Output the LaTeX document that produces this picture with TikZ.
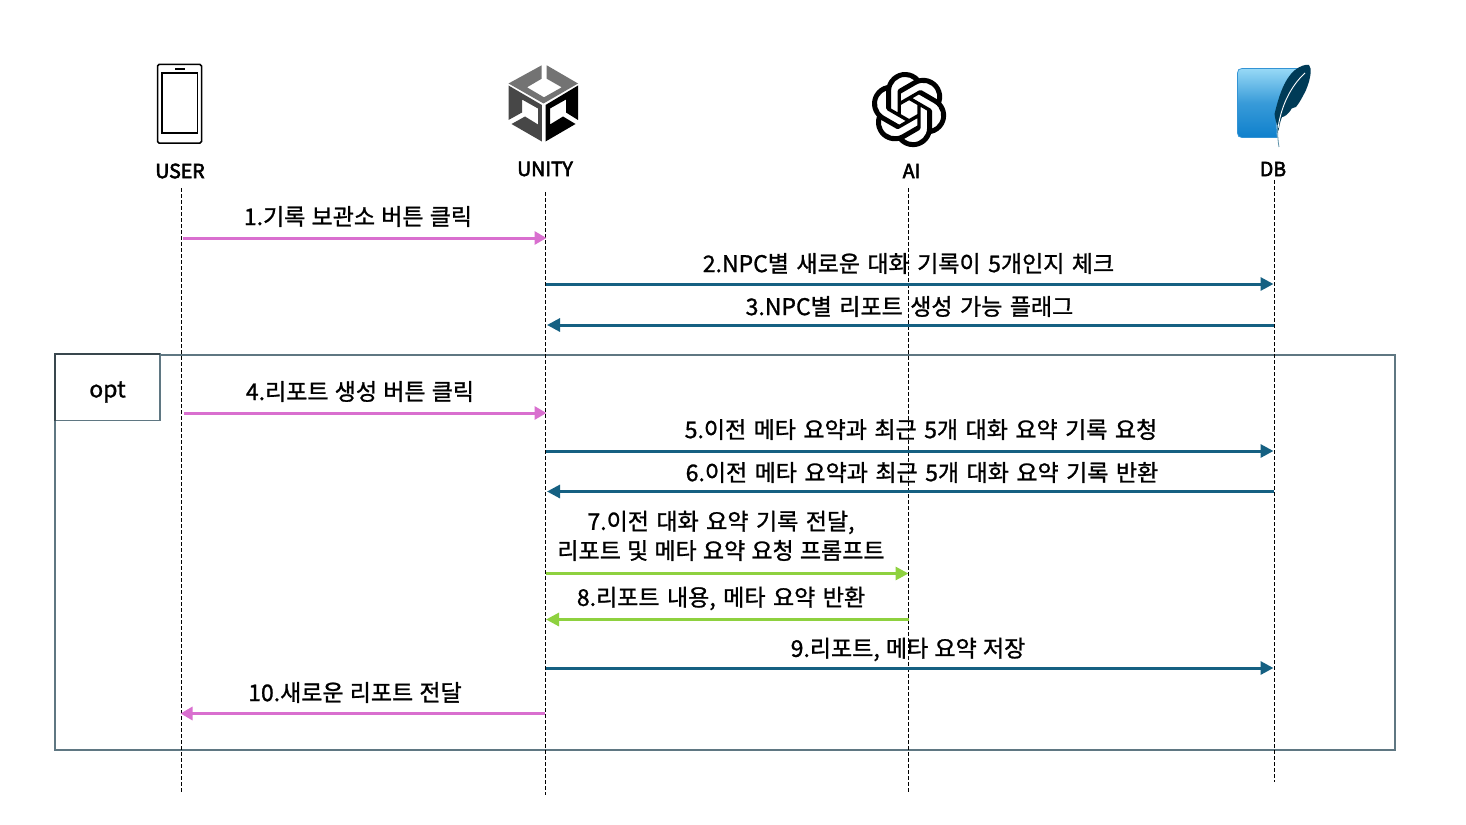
\documentclass[tikz,border=0pt]{standalone}
\usepackage{fontspec}
\setmainfont{Noto Sans CJK KR}[FakeBold=1.1,WordSpace=1.45]
\newfontfamily\tightfont{Noto Sans CJK KR}[FakeBold=1.1,WordSpace=1.2]
\newfontfamily\labfont{Noto Sans CJK KR}[FakeBold=3]
\usetikzlibrary{arrows.meta,svg.path}
\definecolor{pinkc}{HTML}{D96FCF}
\definecolor{bluec}{HTML}{156082}
\definecolor{greenc}{HTML}{8ED13F}
\definecolor{optc}{HTML}{5F7782}
\definecolor{featherc}{HTML}{003B57}
\definecolor{sqltop}{HTML}{97D9F6}
\definecolor{sqlbot}{HTML}{0F80CC}
\tikzset{
  msg/.style={font=\fontsize{23}{29}\selectfont,inner sep=0pt,align=center,text=black},
  msgtight/.style={font=\tightfont\fontsize{23}{29}\selectfont,inner sep=0pt,align=center,text=black},
  actor/.style={font=\labfont\fontsize{19.5}{24}\selectfont,inner sep=0pt,text=black},
  life/.style={draw=black,line width=0.8pt,dash pattern=on 3.6pt off 2.4pt},
  pinkarrow/.style={draw=pinkc,line width=3pt,-{Triangle[length=12pt,width=13pt]}},
  bluearrow/.style={draw=bluec,line width=3pt,-{Triangle[length=13pt,width=13pt]}},
  greenarrow/.style={draw=greenc,line width=3pt,-{Triangle[length=13pt,width=13pt]}},
}
\begin{document}
\begin{tikzpicture}[x=1pt,y=-1pt]
\useasboundingbox (0,0) rectangle (1466,824);
\fill[white] (0,0) rectangle (1466,824);

% lifeline ends
\coordinate (userT) at (181,188); \coordinate (userB) at (181,792);
\coordinate (unityT) at (545.5,192); \coordinate (unityB) at (545.5,795);
\coordinate (aiT) at (908,188); \coordinate (aiB) at (908,792);
\coordinate (dbT) at (1274,180); \coordinate (dbB) at (1274,782);

% opt frame
\node[draw=optc,line width=2pt,minimum width=1339.5pt,minimum height=395pt,inner sep=0pt,outer sep=0pt,anchor=north west] (frame) at (55,354.5) {};

\draw[life] (userT) -- (userB);
\draw[life] (unityT) -- (unityB);
\draw[life] (aiT) -- (aiB);
\draw[life] (dbT) -- (dbB);

\node[draw=optc,fill=white,line width=1.8pt,minimum width=105pt,minimum height=66.5pt,inner sep=0pt,outer sep=0pt,anchor=north west] (tab) at (55,354) {};
\draw[optc!60!black,line width=1.8pt] (tab.south west) -- (tab.north west) -- (tab.north east);
\node[msg] (optlabel) at (107.5,392) {opt};

% phone
\draw[black,line width=1.5pt,rounded corners=1.5pt] (157.5,64.5) rectangle (201.5,143);
\draw[black,line width=1.4pt] (162,73) rectangle (197.5,133);
\draw[black,line width=1.6pt] (175,69) -- (185,69);

% unity
\fill[black!55] (541.7,65.3) -- (508.5,83.5) -- (543.5,103.5) -- (578,83.5) -- (546.7,65.3) -- (546.7,78.7) -- (561.7,87.3) -- (544,97.3) -- (527,87.3) -- (541.7,78.7) -- cycle;
\fill[black!72] (508.5,85.5) -- (541.9,105) -- (541.9,141.5) -- (511.5,124) -- (525,116.5) -- (538,124.5) -- (538,108.5) -- (522,99.5) -- (522,112.5) -- (508.5,120) -- cycle;
\fill[black] (578,85.5) -- (545.5,105) -- (545.5,141.5) -- (575.5,124) -- (563,116.5) -- (550,124.5) -- (550,108.5) -- (566,99.5) -- (566,112.5) -- (578,120) -- cycle;

% openai
\begin{scope}[shift={(871.5,72)},scale=3.13,yscale=-1]
\fill[black,even odd rule] svg {M22.2819 9.8211a5.9847 5.9847 0 0 0-.5157-4.9108 6.0462 6.0462 0 0 0-6.5098-2.9A6.0651 6.0651 0 0 0 4.9807 4.1818a5.9847 5.9847 0 0 0-3.9977 2.9 6.0462 6.0462 0 0 0 .7427 7.0966 5.98 5.98 0 0 0 .511 4.9107 6.051 6.051 0 0 0 6.5146 2.9001A5.9847 5.9847 0 0 0 13.2599 24a6.0557 6.0557 0 0 0 5.7718-4.2058 5.9894 5.9894 0 0 0 3.9977-2.9001 6.0557 6.0557 0 0 0-.7475-7.0729z
M13.2599 22.4292a4.4755 4.4755 0 0 1-2.8764-1.0408l.1419-.0804 4.7783-2.7582a.7948 .7948 0 0 0 .3927-.6813v-6.7369l2.02 1.1686a.071 .071 0 0 1 .038 .052v5.5826a4.504 4.504 0 0 1-4.4945 4.4944z
M3.5992 18.3038a4.4708 4.4708 0 0 1-.5346-3.0137l.142 .0852 4.783 2.7582a.7712 .7712 0 0 0 .7806 0l5.8428-3.3685v2.3324a.0804 .0804 0 0 1-.0332 .0615L9.74 19.9502a4.4992 4.4992 0 0 1-6.1408-1.6464z
M2.3408 7.8956a4.485 4.485 0 0 1 2.3655-1.9728V11.6a.7664 .7664 0 0 0 .3879 .6765l5.8144 3.3543-2.0201 1.1685a.0757 .0757 0 0 1-.071 0l-4.8303-2.7865A4.504 4.504 0 0 1 2.3408 7.872z
M18.9371 11.7514L13.1038 8.364 15.1192 7.2a.0757 .0757 0 0 1 .071 0l4.8303 2.7913a4.4944 4.4944 0 0 1-.6765 8.1042v-5.6772a.79 .79 0 0 0-.407-.667z
M20.9478 8.7283l-.142-.0852-4.7735-2.7818a.7759 .7759 0 0 0-.7854 0L9.409 9.2297V6.8974a.0662 .0662 0 0 1 .0284-.0615l4.8303-2.7866a4.4992 4.4992 0 0 1 6.6802 4.66z
M8.3065 12.863l-2.02-1.1638a.0804 .0804 0 0 1-.038-.0567V6.0742a4.4992 4.4992 0 0 1 7.3757-3.4537l-.142 .0805L8.704 5.459a.7948 .7948 0 0 0-.3927 .6813z
M9.4041 10.4976l2.602-1.4998 2.6069 1.4998v2.9994l-2.5974 1.4997-2.6067-1.4997Z};
\end{scope}

% sqlite
\shadedraw[draw=sqlbot!85!white,line width=0.7pt,top color=sqltop,bottom color=sqlbot,middle color=sqlbot!70!sqltop]
  (1237.5,73) .. controls (1237.5,70) and (1239,68.5) .. (1242,68.5) -- (1298,68.5)
  .. controls (1288,80) and (1280,100) .. (1276,116) .. controls (1276,125) and (1276.5,132) .. (1277,137.5)
  -- (1242,137.5) .. controls (1239,137.5) and (1237.5,136) .. (1237.5,133) -- cycle;
\fill[featherc] (1277.5,127) .. controls (1276,122) and (1275,118) .. (1274.5,114)
  .. controls (1278,100) and (1283,80) .. (1295,70) .. controls (1300,66) and (1306,64) .. (1309,65)
  .. controls (1312,68) and (1311,78) .. (1306,90) .. controls (1303,96) and (1300,102) .. (1296,107)
  .. controls (1292,108) and (1288,110) .. (1286,112) -- (1292,108) .. controls (1288,115) and (1284,117) .. (1282,117)
  .. controls (1280,122) and (1279,127) .. (1278.5,131) -- cycle;
\draw[white,line width=0.9pt] (1305,73) .. controls (1295,82) and (1282,100) .. (1278,128);
\draw[bluec!70!white,line width=0.8pt] (1277.5,125) .. controls (1277.5,135) and (1278,142) .. (1279,147);

% actor labels
\node[actor] (userL) at (180,171) {USER};
\node[actor] (unityL) at (545,169) {UNITY};
\node[actor] (aiL) at (911.5,171) {AI};
\node[actor] (dbL) at (1273,169) {DB};

% message anchors
\coordinate (u1) at (183,238); \coordinate (n1) at (546.5,238);
\coordinate (n2) at (546,284); \coordinate (d2) at (1273.5,284);
\coordinate (d3) at (1274,325); \coordinate (n3) at (547,325);
\coordinate (u4) at (184,413); \coordinate (n4) at (546.5,413);
\coordinate (n5) at (546,451); \coordinate (d5) at (1273.5,451);
\coordinate (d6) at (1274,491.5); \coordinate (n6) at (547,491.5);
\coordinate (n7) at (546,573.5); \coordinate (a7) at (908.5,573.5);
\coordinate (a8) at (909,619.5); \coordinate (n8) at (546,619.5);
\coordinate (n9) at (546,668); \coordinate (d9) at (1273.5,668);
\coordinate (n10) at (545,713.5); \coordinate (u10) at (180.5,713.5);

\draw[pinkarrow] (u1) -- (n1);
\draw[bluearrow] (n2) -- (d2);
\draw[bluearrow] (d3) -- (n3);
\draw[pinkarrow] (u4) -- (n4);
\draw[bluearrow] (n5) -- (d5);
\draw[bluearrow] (d6) -- (n6);
\draw[greenarrow] (n7) -- (a7);
\draw[greenarrow] (a8) -- (n8);
\draw[bluearrow] (n9) -- (d9);
\draw[pinkarrow] (n10) -- (u10);

% message labels
\node[msgtight] (m1) at (358,216.5) {1.기록 보관소 버튼 클릭};
\node[msg] (m2) at (908.5,263.5) {2.NPC별 새로운 대화 기록이 5개인지 체크};
\node[msg] (m3) at (909.5,306.5) {3.NPC별 리포트 생성 가능 플래그};
\node[msgtight] (m4) at (360,391.5) {4.리포트 생성 버튼 클릭};
\node[msg] (m5) at (921,429.5) {5.이전 메타 요약과 최근 5개 대화 요약 기록 요청};
\node[msg] (m6) at (922,472.5) {6.이전 메타 요약과 최근 5개 대화 요약 기록 반환};
\node[msg] (m7a) at (721,522.5) {7.이전 대화 요약 기록 전달,};
\node[msgtight] (m7b) at (721,550.5) {리포트 및 메타 요약 요청 프롬프트};
\node[msg] (m8) at (721,598.5) {8.리포트 내용, 메타 요약 반환};
\node[msgtight] (m9) at (908,649.5) {9.리포트, 메타 요약 저장};
\node[msgtight] (m10) at (355,692.5) {10.새로운 리포트 전달};
\end{tikzpicture}
\end{document}
